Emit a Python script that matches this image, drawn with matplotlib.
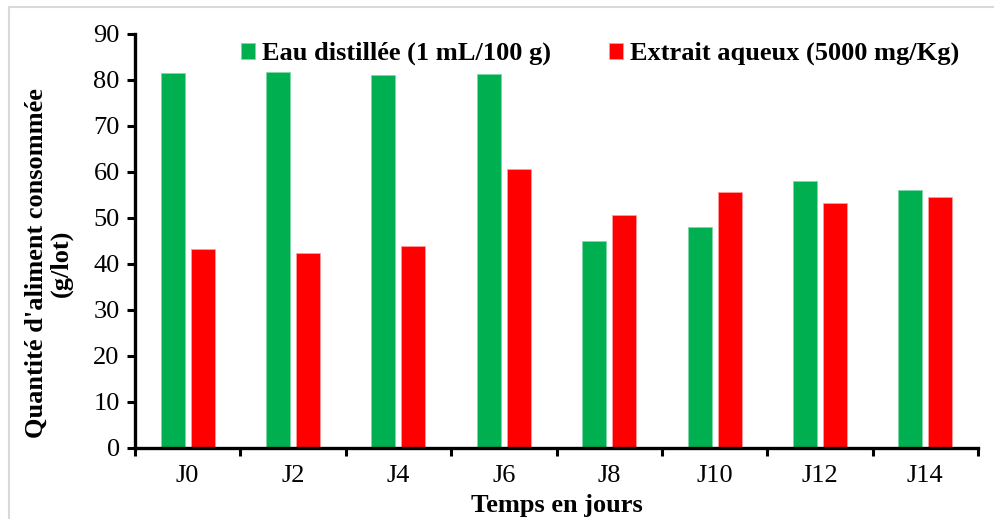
import matplotlib
matplotlib.use("Agg")
import matplotlib.pyplot as plt
from matplotlib.lines import Line2D
import numpy as np

categories = ["J0", "J2", "J4", "J6", "J8", "J10", "J12", "J14"]
eau = [81.6, 81.7, 81.1, 81.3, 45.0, 48.0, 58.0, 56.0]
extrait = [43.3, 42.4, 44.0, 60.6, 50.7, 55.6, 53.3, 54.5]
labels = ["Eau distillée (1 mL/100 g)", "Extrait aqueux (5000 mg/Kg)"]
yticks = [0, 10, 20, 30, 40, 50, 60, 70, 80, 90]

plt.rcParams["font.family"] = ["Liberation Serif", "DejaVu Serif"]

W, H = 994, 519
fig = plt.figure(figsize=(W / 100, H / 100), dpi=100)
ax = fig.add_axes([135 / W, 1 - 448 / H, (978 - 135) / W, (448 - 34) / H])

# light gray frame of the chart area (left and top edges)
fig.add_artist(Line2D([9 / W, 9 / W], [0, 1 - 7 / H], transform=fig.transFigure,
                      color="#d9d9d9", linewidth=1.5))
fig.add_artist(Line2D([9 / W, 1], [1 - 7 / H, 1 - 7 / H], transform=fig.transFigure,
                      color="#d9d9d9", linewidth=1.5))

x = np.arange(len(categories))
w = 0.228
off = 0.142
ax.bar(x - off, eau, w, color="#00B050", edgecolor="#7fd8a8", linewidth=0.6, label=labels[0])
ax.bar(x + off, extrait, w, color="#FF0000", edgecolor="#ff9a9a", linewidth=0.6, label=labels[1])

ax.set_xlim(-0.5, len(categories) - 0.5)
ax.set_ylim(0, 90)
ax.set_yticks(yticks)
ax.set_yticklabels([str(v) for v in yticks], fontsize=19)
ax.set_xticks(x)
ax.set_xticklabels(categories, fontsize=19)
ax.set_xticks(np.arange(len(categories) + 1) - 0.5, minor=True)
ax.tick_params(axis="x", which="major", length=0, pad=12)
ax.tick_params(axis="x", which="minor", length=6, width=2.2, direction="out")
ax.tick_params(axis="y", length=6, width=2.2, direction="out", pad=5)

for s in ["top", "right"]:
    ax.spines[s].set_visible(False)
for s in ["left", "bottom"]:
    ax.spines[s].set_linewidth(2.4)

ax.set_xlabel("Temps en jours", fontsize=19, fontweight="bold")
ax.xaxis.set_label_coords(0.5, -(494 - 448) / 414)
ax.set_ylabel("Quantité d'aliment consommée\n(g/lot)", fontsize=19, fontweight="bold",
              linespacing=1.1)
ax.yaxis.set_label_coords(-(135 - 73) / 843, (448 - 263) / 414)

ax.legend(ncol=2, loc="upper center", bbox_to_anchor=((600 - 135) / 843, 1.038), frameon=False,
          prop={"size": 19, "weight": "bold"}, handlelength=0.55, handleheight=0.55,
          handletextpad=0.25, columnspacing=2.2)

fig.savefig("out.png", dpi=100)
